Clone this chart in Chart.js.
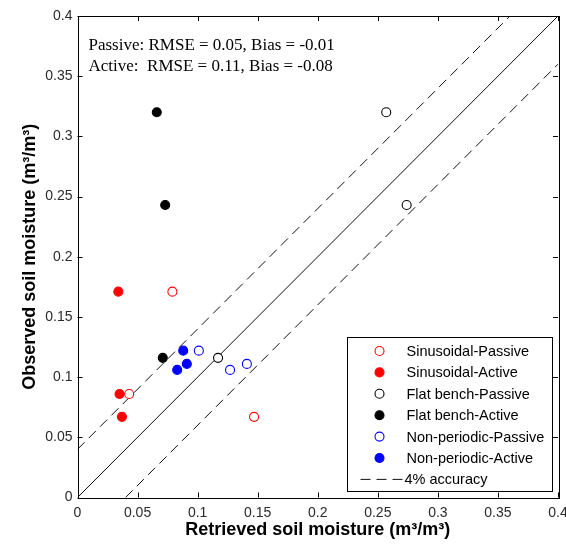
<!DOCTYPE html>
<html>
<head>
<meta charset="utf-8">
<script src="https://cdn.jsdelivr.net/npm/chart.js@4.4.1/dist/chart.umd.min.js"></script>
<style>
  html, body { margin: 0; padding: 0; background: #fff; }
  canvas { display: block; }
</style>
</head>
<body>
<canvas id="chart" width="566" height="549"></canvas>
<script>
// retrieved (x) vs observed (y) soil moisture, m3/m3
const sinPassiveX = [0.079, 0.043, 0.147];
const sinPassiveY = [0.171, 0.086, 0.067];
const sinActiveX = [0.034, 0.035, 0.037];
const sinActiveY = [0.171, 0.086, 0.067];
const flatPassiveX = [0.257, 0.274, 0.117];
const flatPassiveY = [0.320, 0.243, 0.116];
const flatActiveX = [0.066, 0.073, 0.071];
const flatActiveY = [0.320, 0.243, 0.116];
const nonPassiveX = [0.101, 0.127, 0.141];
const nonPassiveY = [0.122, 0.106, 0.111];
const nonActiveX = [0.088, 0.083, 0.091];
const nonActiveY = [0.122, 0.106, 0.111];

const axisMin = 0;
const axisMax = 0.4;
const tickStep = 0.05;
const accuracy = 0.04;

const statLines = ['Passive: RMSE = 0.05, Bias = -0.01', 'Active:  RMSE = 0.11, Bias = -0.08'];

const seriesNames = ['Sinusoidal-Passive', 'Sinusoidal-Active', 'Flat bench-Passive',
  'Flat bench-Active', 'Non-periodic-Passive', 'Non-periodic-Active'];
const seriesColors = ['#ff0000', '#ff0000', '#000000', '#000000', '#0000ff', '#0000ff'];
const seriesFilled = [false, true, false, true, false, true];
const seriesX = [sinPassiveX, sinActiveX, flatPassiveX, flatActiveX, nonPassiveX, nonActiveX];
const seriesY = [sinPassiveY, sinActiveY, flatPassiveY, flatActiveY, nonPassiveY, nonActiveY];

const pts = (xs, ys) => xs.map((x, i) => ({ x: x, y: ys[i] }));

const pointSets = seriesNames.map((name, i) => ({
  type: 'scatter',
  label: name,
  data: pts(seriesX[i], seriesY[i]),
  pointRadius: 4.5,
  pointHoverRadius: 4.5,
  borderWidth: 1.1,
  pointBorderColor: seriesColors[i],
  pointBackgroundColor: seriesFilled[i] ? seriesColors[i] : '#ffffff',
  order: 1
}));

const lineSet = (data, dash) => ({
  type: 'line',
  data: data,
  borderColor: '#111',
  borderWidth: 1,
  borderDash: dash,
  pointRadius: 0,
  fill: false,
  order: 2
});

const oneToOne = lineSet([{ x: axisMin, y: axisMin }, { x: axisMax, y: axisMax }], []);
const upperBound = lineSet([{ x: axisMin, y: axisMin + accuracy }, { x: axisMax - accuracy, y: axisMax }], [10, 6]);
const lowerBound = lineSet([{ x: axisMin + accuracy, y: axisMin }, { x: axisMax, y: axisMax - accuracy }], [10, 6]);

const SANS = '"Liberation Sans", Arial, sans-serif';

// box, inward ticks on all four sides, stats text and legend
const framePlugin = {
  id: 'frame',
  afterDraw(chart) {
    const ctx = chart.ctx;
    const a = chart.chartArea;
    const xs = chart.scales.x, ys = chart.scales.y;
    ctx.save();
    ctx.strokeStyle = '#000';
    ctx.lineWidth = 1;
    ctx.strokeRect(Math.round(a.left) + 0.5, Math.round(a.top) + 0.5,
      Math.round(a.right - a.left), Math.round(a.bottom - a.top));
    const tl = 5;
    ctx.beginPath();
    xs.ticks.forEach((t, i) => {
      const px = Math.round(xs.getPixelForTick(i)) + 0.5;
      ctx.moveTo(px, a.bottom); ctx.lineTo(px, a.bottom - tl);
      ctx.moveTo(px, a.top); ctx.lineTo(px, a.top + tl);
    });
    ys.ticks.forEach((t, i) => {
      const py = Math.round(ys.getPixelForTick(i)) + 0.5;
      ctx.moveTo(a.left, py); ctx.lineTo(a.left + tl, py);
      ctx.moveTo(a.right, py); ctx.lineTo(a.right - tl, py);
    });
    ctx.stroke();

    // stats
    ctx.fillStyle = '#000';
    ctx.font = '17px "Liberation Serif", "Times New Roman", serif';
    ctx.textBaseline = 'alphabetic';
    ctx.textAlign = 'left';
    statLines.forEach((s, i) => ctx.fillText(s, a.left + 11, 50 + i * 21));

    // legend
    const lx = 347.5, ly = 337.5, lw = 205, lh = 154;
    ctx.fillStyle = '#fff';
    ctx.fillRect(lx, ly, lw, lh);
    ctx.strokeStyle = '#000';
    ctx.strokeRect(lx, ly, lw, lh);
    ctx.font = '14.5px ' + SANS;
    ctx.textBaseline = 'middle';
    const rowH = 21.4;
    seriesNames.forEach((name, i) => {
      const cy = ly + 13.5 + i * rowH;
      ctx.beginPath();
      ctx.arc(lx + 32, cy, 4.5, 0, Math.PI * 2);
      ctx.fillStyle = seriesFilled[i] ? seriesColors[i] : '#fff';
      ctx.fill();
      ctx.lineWidth = 1.1;
      ctx.strokeStyle = seriesColors[i];
      ctx.stroke();
      ctx.fillStyle = '#000';
      ctx.fillText(name, lx + 59, cy + 1);
    });
    const dy = ly + 13.5 + 6 * rowH;
    ctx.beginPath();
    ctx.setLineDash([10, 6]);
    ctx.strokeStyle = '#111';
    ctx.lineWidth = 1;
    ctx.moveTo(lx + 13, dy); ctx.lineTo(lx + 55, dy);
    ctx.stroke();
    ctx.setLineDash([]);
    ctx.fillStyle = '#000';
    ctx.fillText('4% accuracy', lx + 57, dy + 1);
    ctx.restore();
  }
};

const fmt = v => String(Math.round(v * 100) / 100);

new Chart(document.getElementById('chart'), {
  type: 'scatter',
  data: { datasets: [...pointSets, oneToOne, upperBound, lowerBound] },
  options: {
    responsive: false,
    animation: false,
    events: [],
    layout: { padding: { top: 16, right: 8, left: 0, bottom: 0 } },
    plugins: { legend: { display: false }, tooltip: { enabled: false } },
    scales: {
      x: {
        type: 'linear',
        min: axisMin, max: axisMax,
        grid: { display: false, drawTicks: false },
        border: { display: false },
        ticks: { stepSize: tickStep, callback: fmt, padding: 7, color: '#2a2a2a',
          font: { family: SANS, size: 14 }, maxRotation: 0 },
        title: { display: true, text: 'Retrieved soil moisture (m³/m³)', color: '#000',
          font: { family: SANS, size: 18, weight: 'bold' }, padding: { top: 0, bottom: 8 } },
        afterFit: s => { s.height = 51.5; s.paddingLeft = 0; s.paddingRight = 0; }
      },
      y: {
        type: 'linear',
        min: axisMin, max: axisMax,
        grid: { display: false, drawTicks: false },
        border: { display: false },
        ticks: { stepSize: tickStep, callback: fmt, padding: 5, color: '#2a2a2a',
          font: { family: SANS, size: 14 } },
        title: { display: true, text: 'Observed soil moisture (m³/m³)', color: '#000',
          font: { family: SANS, size: 18, weight: 'bold' }, padding: { top: 19, bottom: 0 } },
        afterFit: s => { s.width = 77.5; s.paddingTop = 0; s.paddingBottom = 0; }
      }
    }
  },
  plugins: [framePlugin]
});
</script>
</body>
</html>
